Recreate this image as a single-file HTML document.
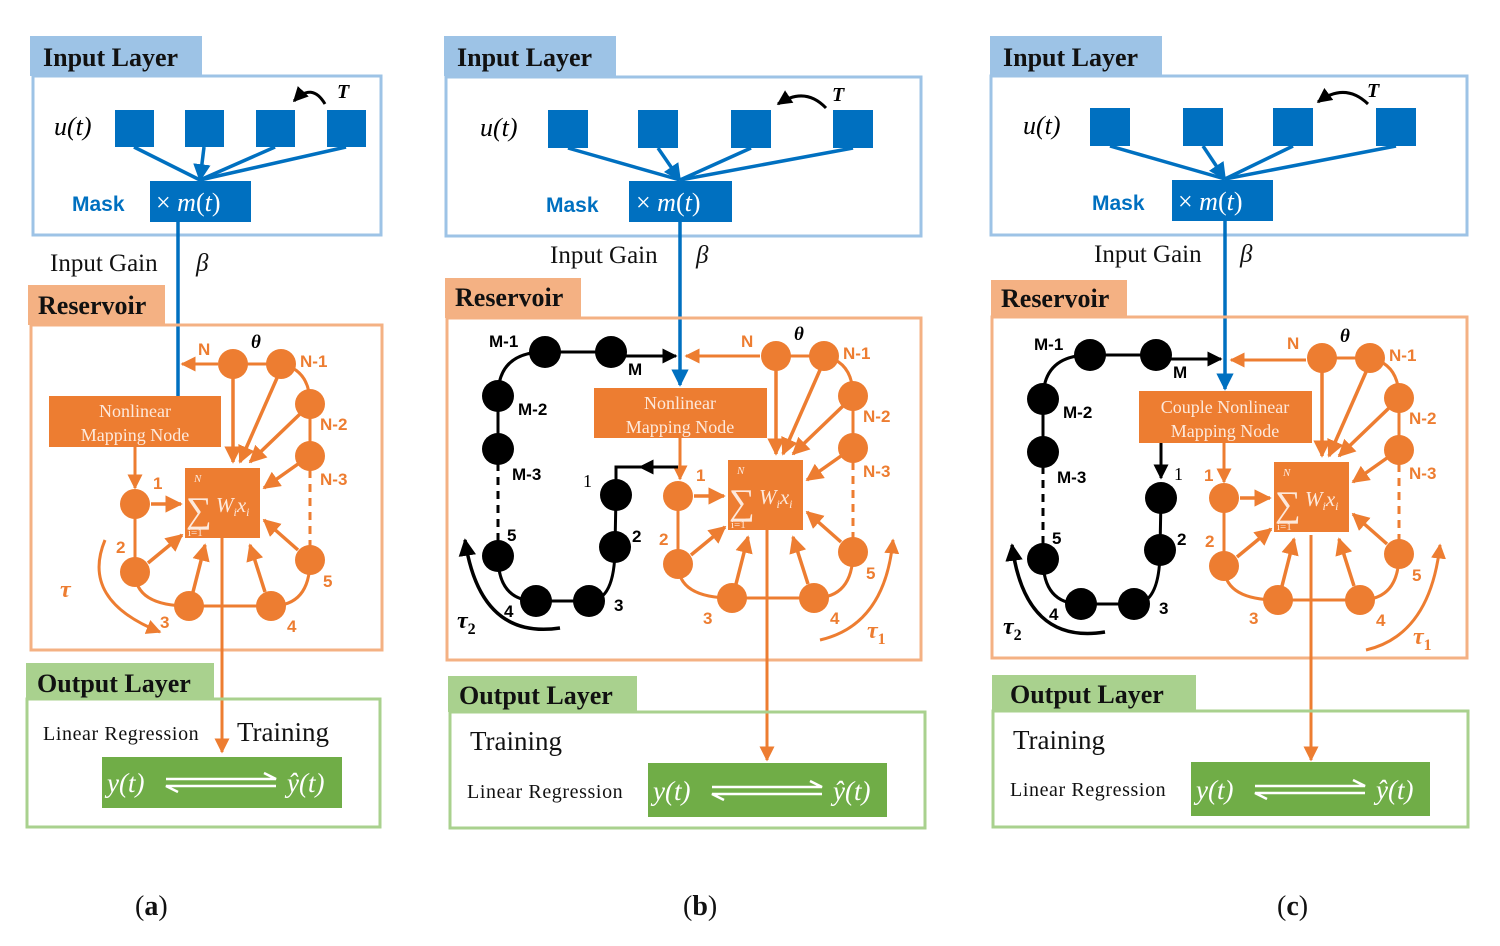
<!DOCTYPE html>
<html><head><meta charset="utf-8"><style>
html,body{margin:0;padding:0;background:#fff;}
svg{display:block;}
.tt{font-family:"Liberation Serif",serif;font-weight:bold;font-size:26px;fill:#111;}
.se{font-family:"Liberation Serif",serif;}
.sa{font-family:"Liberation Sans",sans-serif;font-weight:bold;}
.ol{font-family:"Liberation Sans",sans-serif;font-weight:bold;font-size:17px;fill:#ED7D31;}
.bl{font-family:"Liberation Sans",sans-serif;font-weight:bold;font-size:17px;fill:#000;}
.lr{font-family:"Liberation Serif",serif;font-size:20px;letter-spacing:0.6px;fill:#111;}
</style></head><body>
<svg width="1500" height="946" viewBox="0 0 1500 946" xmlns="http://www.w3.org/2000/svg">
<defs>
<marker id="mo" viewBox="0 0 10 10" refX="9" refY="5" markerWidth="5" markerHeight="5" orient="auto"><path d="M0,0L10,5L0,10z" fill="#ED7D31"/></marker>
<marker id="mb" viewBox="0 0 10 10" refX="9" refY="5" markerWidth="5" markerHeight="5" orient="auto"><path d="M0,0L10,5L0,10z" fill="#0070C0"/></marker>
<marker id="mk" viewBox="0 0 10 10" refX="9" refY="5" markerWidth="5" markerHeight="5" orient="auto"><path d="M0,0L10,5L0,10z" fill="#000"/></marker>
</defs>

<!-- ================= PANEL A ================= -->
<rect x="30" y="36" width="172" height="40" fill="#9DC3E6"/>
<text x="43" y="66" class="tt">Input Layer</text>
<rect x="33" y="76" width="348" height="159" fill="none" stroke="#9DC3E6" stroke-width="3"/>
<text x="54" y="135" class="se" font-size="26" font-style="italic">u(t)</text>
<g fill="#0070C0"><rect x="115" y="110" width="39" height="37"/><rect x="185" y="110" width="39" height="37"/><rect x="256" y="110" width="39" height="37"/><rect x="327" y="110" width="39" height="37"/></g>
<g stroke="#0070C0" stroke-width="3.5" fill="none"><line x1="134" y1="147" x2="200" y2="180"/><line x1="204" y1="147" x2="200" y2="180" marker-end="url(#mb)"/><line x1="275" y1="147" x2="200" y2="180"/><line x1="346" y1="147" x2="200" y2="180"/></g>
<path d="M325,104 Q312,82 294,101" stroke="#000" stroke-width="3" fill="none" marker-end="url(#mk)"/>
<text x="337" y="98" class="se" font-size="20" font-style="italic" font-weight="bold">T</text>
<text x="72" y="211" class="sa" font-size="21" fill="#0070C0">Mask</text>
<rect x="150" y="181" width="101" height="41" fill="#0070C0"/>
<text x="156" y="211" class="se" font-size="26" fill="#fff">× <tspan font-style="italic">m</tspan>(<tspan font-style="italic">t</tspan>)</text>
<line x1="178" y1="222" x2="178" y2="396" stroke="#0070C0" stroke-width="3.5"/>
<text x="50" y="271" class="se" font-size="25" fill="#111">Input Gain</text>
<text x="196" y="271" class="se" font-size="25" font-style="italic" fill="#111">β</text>
<rect x="28" y="285" width="137" height="40" fill="#F4B183"/>
<text x="38" y="314" class="tt">Reservoir</text>
<rect x="31" y="325" width="351" height="325" fill="none" stroke="#F4B183" stroke-width="3"/>
<rect x="49" y="396" width="172" height="51" fill="#ED7D31"/>
<text x="135" y="417" class="se" font-size="18" fill="#fde9dc" text-anchor="middle">Nonlinear</text>
<text x="135" y="441" class="se" font-size="18" fill="#fde9dc" text-anchor="middle">Mapping Node</text>
<line x1="218" y1="364" x2="182" y2="364" stroke="#ED7D31" stroke-width="3" marker-end="url(#mo)"/>
<line x1="135" y1="447" x2="135" y2="488" stroke="#ED7D31" stroke-width="3" marker-end="url(#mo)"/>
<path d="M105,540 Q80,600 160,632" stroke="#ED7D31" stroke-width="3" fill="none" marker-end="url(#mo)"/>
<text x="60" y="597" class="se" font-size="24" font-style="italic" font-weight="bold" fill="#ED7D31">τ</text>
<g>
<g stroke="#ED7D31" stroke-width="3" fill="none">
<path d="M233,364 L281,364 Q310,370 310,404 L310,456"/>
<path d="M310,456 L310,545" stroke-dasharray="8,6"/>
<path d="M310,545 L310,560 Q310,606 271,606 L189,606 Q135,606 135,572 L135,504"/>
</g>
<g stroke="#ED7D31" stroke-width="3.5" fill="none" marker-end="url(#mo)">
<line x1="233" y1="378" x2="233" y2="462"/>
<line x1="277" y1="378" x2="240" y2="462"/>
<line x1="300" y1="414" x2="250" y2="462"/>
<line x1="298" y1="464" x2="264" y2="488"/>
<line x1="298" y1="550" x2="264" y2="520"/>
<line x1="265" y1="592" x2="250" y2="545"/>
<line x1="193" y1="592" x2="205" y2="545"/>
<line x1="148" y1="563" x2="182" y2="535"/>
<line x1="151" y1="504" x2="181" y2="504"/>
</g>
<g fill="#ED7D31"><circle cx="233" cy="364" r="15"/><circle cx="281" cy="364" r="15"/><circle cx="310" cy="404" r="15"/><circle cx="310" cy="456" r="15"/><circle cx="310" cy="560" r="15"/><circle cx="271" cy="606" r="15"/><circle cx="189" cy="606" r="15"/><circle cx="135" cy="572" r="15"/><circle cx="135" cy="504" r="15"/></g>
<rect x="185" y="468" width="75" height="70" fill="#ED7D31"/>
<text x="186" y="522" class="se" font-size="36" fill="#fde9dc">∑</text>
<text x="194" y="482" class="se" font-size="11" font-style="italic" fill="#fde9dc">N</text>
<text x="188" y="536" class="se" font-size="11" fill="#fde9dc">i=1</text>
<text x="216" y="512" class="se" font-size="21" font-style="italic" fill="#fde9dc">W<tspan font-size="12" dy="4">i</tspan><tspan dy="-4">x</tspan><tspan font-size="12" dy="4">i</tspan></text>
<text x="198" y="355" class="ol">N</text>
<text x="251" y="348" class="se" font-size="19" font-style="italic" font-weight="bold">θ</text>
<text x="300" y="367" class="ol">N-1</text>
<text x="320" y="430" class="ol">N-2</text>
<text x="320" y="485" class="ol">N-3</text>
<text x="323" y="587" class="ol">5</text>
<text x="287" y="632" class="ol">4</text>
<text x="116" y="553" class="ol">2</text>
<text x="153" y="489" class="ol">1</text>
</g>
<text x="160" y="628" class="ol">3</text>
<line x1="222" y1="538" x2="222" y2="752" stroke="#ED7D31" stroke-width="3" marker-end="url(#mo)"/>
<rect x="26" y="663" width="188" height="36" fill="#A9D18E"/>
<text x="37" y="692" class="tt">Output Layer</text>
<rect x="27" y="699" width="353" height="128" fill="none" stroke="#A9D18E" stroke-width="3"/>
<text x="43" y="740" class="lr">Linear Regression</text>
<text x="237" y="741" class="se" font-size="27" fill="#111">Training</text>
<rect x="102" y="757" width="240" height="51" fill="#70AD47"/>
<text x="107" y="792" class="se" font-size="27" font-style="italic" fill="#fff">y(t)</text>
<g stroke="#fff" stroke-width="2.5" fill="none"><path d="M166,779 L276,779 L264,773"/><path d="M276,786 L166,786 L178,792"/></g>
<text x="287" y="792" class="se" font-size="27" font-style="italic" fill="#fff">ŷ(t)</text>
<text x="135" y="915" class="se" font-size="28" fill="#111">(<tspan font-weight="bold">a</tspan>)</text>

<!-- ================= PANEL B ================= -->
<rect x="444" y="36" width="172" height="40" fill="#9DC3E6"/>
<text x="457" y="66" class="tt">Input Layer</text>
<rect x="446" y="77" width="475" height="159" fill="none" stroke="#9DC3E6" stroke-width="3"/>
<text x="480" y="136" class="se" font-size="26" font-style="italic">u(t)</text>
<g fill="#0070C0"><rect x="548" y="110" width="40" height="38"/><rect x="638" y="110" width="40" height="38"/><rect x="731" y="110" width="40" height="38"/><rect x="833" y="110" width="40" height="38"/></g>
<g stroke="#0070C0" stroke-width="3.5" fill="none"><line x1="568" y1="148" x2="680" y2="180"/><line x1="658" y1="148" x2="680" y2="180" marker-end="url(#mb)"/><line x1="751" y1="148" x2="680" y2="180"/><line x1="853" y1="148" x2="680" y2="180"/></g>
<path d="M826,108 Q805,86 778,104" stroke="#000" stroke-width="3" fill="none" marker-end="url(#mk)"/>
<text x="832" y="101" class="se" font-size="20" font-style="italic" font-weight="bold">T</text>
<text x="546" y="212" class="sa" font-size="21" fill="#0070C0">Mask</text>
<rect x="629" y="181" width="103" height="41" fill="#0070C0"/>
<text x="636" y="211" class="se" font-size="26" fill="#fff">× <tspan font-style="italic">m</tspan>(<tspan font-style="italic">t</tspan>)</text>
<line x1="680" y1="222" x2="680" y2="385" stroke="#0070C0" stroke-width="3.5" marker-end="url(#mb)"/>
<text x="550" y="263" class="se" font-size="25" fill="#111">Input Gain</text>
<text x="696" y="263" class="se" font-size="25" font-style="italic" fill="#111">β</text>
<rect x="445" y="278" width="136" height="40" fill="#F4B183"/>
<text x="455" y="306" class="tt">Reservoir</text>
<rect x="447" y="318" width="474" height="342" fill="none" stroke="#F4B183" stroke-width="3"/>
<rect x="594" y="388" width="173" height="50" fill="#ED7D31"/>
<text x="680" y="409" class="se" font-size="18" fill="#fde9dc" text-anchor="middle">Nonlinear</text>
<text x="680" y="433" class="se" font-size="18" fill="#fde9dc" text-anchor="middle">Mapping Node</text>
<line x1="760" y1="356" x2="686" y2="356" stroke="#ED7D31" stroke-width="3" marker-end="url(#mo)"/>
<line x1="680" y1="438" x2="680" y2="479" stroke="#ED7D31" stroke-width="3" marker-end="url(#mo)"/>
<g transform="translate(543,-8)">
<g stroke="#ED7D31" stroke-width="3" fill="none">
<path d="M233,364 L281,364 Q310,370 310,404 L310,456"/>
<path d="M310,456 L310,545" stroke-dasharray="8,6"/>
<path d="M310,545 L310,560 Q310,606 271,606 L189,606 Q135,606 135,572 L135,504"/>
</g>
<g stroke="#ED7D31" stroke-width="3.5" fill="none" marker-end="url(#mo)">
<line x1="233" y1="378" x2="233" y2="462"/><line x1="277" y1="378" x2="240" y2="462"/><line x1="300" y1="414" x2="250" y2="462"/><line x1="298" y1="464" x2="264" y2="488"/><line x1="298" y1="550" x2="264" y2="520"/><line x1="265" y1="592" x2="250" y2="545"/><line x1="193" y1="592" x2="205" y2="545"/><line x1="148" y1="563" x2="182" y2="535"/><line x1="151" y1="504" x2="181" y2="504"/>
</g>
<g fill="#ED7D31"><circle cx="233" cy="364" r="15"/><circle cx="281" cy="364" r="15"/><circle cx="310" cy="404" r="15"/><circle cx="310" cy="456" r="15"/><circle cx="310" cy="560" r="15"/><circle cx="271" cy="606" r="15"/><circle cx="189" cy="606" r="15"/><circle cx="135" cy="572" r="15"/><circle cx="135" cy="504" r="15"/></g>
<rect x="185" y="468" width="75" height="70" fill="#ED7D31"/>
<text x="186" y="522" class="se" font-size="36" fill="#fde9dc">∑</text>
<text x="194" y="482" class="se" font-size="11" font-style="italic" fill="#fde9dc">N</text>
<text x="188" y="536" class="se" font-size="11" fill="#fde9dc">i=1</text>
<text x="216" y="512" class="se" font-size="21" font-style="italic" fill="#fde9dc">W<tspan font-size="12" dy="4">i</tspan><tspan dy="-4">x</tspan><tspan font-size="12" dy="4">i</tspan></text>
<text x="198" y="355" class="ol">N</text>
<text x="251" y="348" class="se" font-size="19" font-style="italic" font-weight="bold">θ</text>
<text x="300" y="367" class="ol">N-1</text>
<text x="320" y="430" class="ol">N-2</text>
<text x="320" y="485" class="ol">N-3</text>
<text x="323" y="587" class="ol">5</text>
<text x="287" y="632" class="ol">4</text>
<text x="160" y="632" class="ol">3</text>
<text x="116" y="553" class="ol">2</text>
<text x="153" y="489" class="ol">1</text>
</g>
<path d="M820,640 Q885,625 893,540" stroke="#ED7D31" stroke-width="3" fill="none" marker-end="url(#mo)"/>
<text x="867" y="638" class="se" font-size="24" font-style="italic" font-weight="bold" fill="#ED7D31">τ<tspan font-size="16" dy="6" font-style="normal">1</tspan></text>
<g>
<g stroke="#000" stroke-width="3" fill="none">
<path d="M611,352 L545,352 Q498,352 498,396 L498,449"/>
<path d="M498,449 L498,540" stroke-dasharray="8,6"/>
<path d="M498,540 L498,556 Q498,601 536,601 L589,601 Q615,601 615,547 L616,495"/>
<line x1="611" y1="356" x2="676" y2="356" marker-end="url(#mk)"/>
</g>
<g fill="#000"><circle cx="545" cy="352" r="16"/><circle cx="611" cy="352" r="16"/><circle cx="498" cy="396" r="16"/><circle cx="498" cy="449" r="16"/><circle cx="498" cy="556" r="16"/><circle cx="536" cy="601" r="16"/><circle cx="589" cy="601" r="16"/><circle cx="615" cy="547" r="16"/><circle cx="616" cy="495" r="16"/></g>
<text x="489" y="347" class="bl">M-1</text>
<text x="628" y="375" class="bl">M</text>
<text x="518" y="415" class="bl">M-2</text>
<text x="512" y="480" class="bl">M-3</text>
<text x="507" y="541" class="bl">5</text>
<text x="504" y="617" class="bl">4</text>
<text x="614" y="611" class="bl">3</text>
<text x="632" y="542" class="bl">2</text>
</g>
<text x="583" y="487" class="se" font-size="18" fill="#000">1</text>
<path d="M616,480 L616,467 L678,467" stroke="#000" stroke-width="3" fill="none"/>
<line x1="660" y1="467" x2="640" y2="467" stroke="#000" stroke-width="3" marker-end="url(#mk)"/>
<path d="M560,628 Q480,640 465,540" stroke="#000" stroke-width="3.5" fill="none" marker-end="url(#mk)"/>
<text x="457" y="628" class="se" font-size="24" font-style="italic" font-weight="bold" fill="#000">τ<tspan font-size="16" dy="6" font-style="normal">2</tspan></text>
<line x1="767" y1="530" x2="767" y2="760" stroke="#ED7D31" stroke-width="3" marker-end="url(#mo)"/>
<rect x="448" y="676" width="189" height="36" fill="#A9D18E"/>
<text x="459" y="704" class="tt">Output Layer</text>
<rect x="450" y="712" width="475" height="116" fill="none" stroke="#A9D18E" stroke-width="3"/>
<text x="470" y="750" class="se" font-size="27" fill="#111">Training</text>
<text x="467" y="798" class="lr">Linear Regression</text>
<rect x="648" y="763" width="239" height="54" fill="#70AD47"/>
<text x="653" y="800" class="se" font-size="27" font-style="italic" fill="#fff">y(t)</text>
<g stroke="#fff" stroke-width="2.5" fill="none"><path d="M712,787 L822,787 L810,781"/><path d="M822,794 L712,794 L724,800"/></g>
<text x="833" y="800" class="se" font-size="27" font-style="italic" fill="#fff">ŷ(t)</text>
<text x="683" y="915" class="se" font-size="28" fill="#111">(<tspan font-weight="bold">b</tspan>)</text>

<!-- ================= PANEL C ================= -->
<rect x="990" y="36" width="172" height="40" fill="#9DC3E6"/>
<text x="1003" y="66" class="tt">Input Layer</text>
<rect x="991" y="76" width="476" height="159" fill="none" stroke="#9DC3E6" stroke-width="3"/>
<text x="1023" y="134" class="se" font-size="26" font-style="italic">u(t)</text>
<g fill="#0070C0"><rect x="1090" y="108" width="40" height="38"/><rect x="1183" y="108" width="40" height="38"/><rect x="1273" y="108" width="40" height="38"/><rect x="1376" y="108" width="40" height="38"/></g>
<g stroke="#0070C0" stroke-width="3.5" fill="none"><line x1="1110" y1="146" x2="1225" y2="179"/><line x1="1203" y1="146" x2="1225" y2="179" marker-end="url(#mb)"/><line x1="1293" y1="146" x2="1225" y2="179"/><line x1="1396" y1="146" x2="1225" y2="179"/></g>
<path d="M1368,104 Q1345,82 1318,102" stroke="#000" stroke-width="3" fill="none" marker-end="url(#mk)"/>
<text x="1367" y="97" class="se" font-size="20" font-style="italic" font-weight="bold">T</text>
<text x="1092" y="210" class="sa" font-size="21" fill="#0070C0">Mask</text>
<rect x="1172" y="180" width="101" height="41" fill="#0070C0"/>
<text x="1178" y="210" class="se" font-size="26" fill="#fff">× <tspan font-style="italic">m</tspan>(<tspan font-style="italic">t</tspan>)</text>
<line x1="1225" y1="221" x2="1225" y2="389" stroke="#0070C0" stroke-width="3.5" marker-end="url(#mb)"/>
<text x="1094" y="262" class="se" font-size="25" fill="#111">Input Gain</text>
<text x="1240" y="262" class="se" font-size="25" font-style="italic" fill="#111">β</text>
<rect x="991" y="280" width="136" height="38" fill="#F4B183"/>
<text x="1001" y="307" class="tt">Reservoir</text>
<rect x="992" y="317" width="475" height="341" fill="none" stroke="#F4B183" stroke-width="3"/>
<rect x="1139" y="391" width="173" height="52" fill="#ED7D31"/>
<text x="1225" y="413" class="se" font-size="18" fill="#fde9dc" text-anchor="middle">Couple Nonlinear</text>
<text x="1225" y="437" class="se" font-size="18" fill="#fde9dc" text-anchor="middle">Mapping Node</text>
<line x1="1306" y1="360" x2="1231" y2="360" stroke="#ED7D31" stroke-width="3" marker-end="url(#mo)"/>
<line x1="1224" y1="443" x2="1224" y2="482" stroke="#ED7D31" stroke-width="3" marker-end="url(#mo)"/>
<g transform="translate(1089,-6)">
<g stroke="#ED7D31" stroke-width="3" fill="none">
<path d="M233,364 L281,364 Q310,370 310,404 L310,456"/>
<path d="M310,456 L310,545" stroke-dasharray="8,6"/>
<path d="M310,545 L310,560 Q310,606 271,606 L189,606 Q135,606 135,572 L135,504"/>
</g>
<g stroke="#ED7D31" stroke-width="3.5" fill="none" marker-end="url(#mo)">
<line x1="233" y1="378" x2="233" y2="462"/><line x1="277" y1="378" x2="240" y2="462"/><line x1="300" y1="414" x2="250" y2="462"/><line x1="298" y1="464" x2="264" y2="488"/><line x1="298" y1="550" x2="264" y2="520"/><line x1="265" y1="592" x2="250" y2="545"/><line x1="193" y1="592" x2="205" y2="545"/><line x1="148" y1="563" x2="182" y2="535"/><line x1="151" y1="504" x2="181" y2="504"/>
</g>
<g fill="#ED7D31"><circle cx="233" cy="364" r="15"/><circle cx="281" cy="364" r="15"/><circle cx="310" cy="404" r="15"/><circle cx="310" cy="456" r="15"/><circle cx="310" cy="560" r="15"/><circle cx="271" cy="606" r="15"/><circle cx="189" cy="606" r="15"/><circle cx="135" cy="572" r="15"/><circle cx="135" cy="504" r="15"/></g>
<rect x="185" y="468" width="75" height="70" fill="#ED7D31"/>
<text x="186" y="522" class="se" font-size="36" fill="#fde9dc">∑</text>
<text x="194" y="482" class="se" font-size="11" font-style="italic" fill="#fde9dc">N</text>
<text x="188" y="536" class="se" font-size="11" fill="#fde9dc">i=1</text>
<text x="216" y="512" class="se" font-size="21" font-style="italic" fill="#fde9dc">W<tspan font-size="12" dy="4">i</tspan><tspan dy="-4">x</tspan><tspan font-size="12" dy="4">i</tspan></text>
<text x="198" y="355" class="ol">N</text>
<text x="251" y="348" class="se" font-size="19" font-style="italic" font-weight="bold">θ</text>
<text x="300" y="367" class="ol">N-1</text>
<text x="320" y="430" class="ol">N-2</text>
<text x="320" y="485" class="ol">N-3</text>
<text x="323" y="587" class="ol">5</text>
<text x="287" y="632" class="ol">4</text>
<text x="160" y="630" class="ol">3</text>
<text x="116" y="553" class="ol">2</text>
<text x="115" y="487" class="ol">1</text>
</g>
<path d="M1366,650 Q1430,635 1440,545" stroke="#ED7D31" stroke-width="3" fill="none" marker-end="url(#mo)"/>
<text x="1413" y="644" class="se" font-size="24" font-style="italic" font-weight="bold" fill="#ED7D31">τ<tspan font-size="16" dy="6" font-style="normal">1</tspan></text>
<g transform="translate(545,3)">
<g stroke="#000" stroke-width="3" fill="none">
<path d="M611,352 L545,352 Q498,352 498,396 L498,449"/>
<path d="M498,449 L498,540" stroke-dasharray="8,6"/>
<path d="M498,540 L498,556 Q498,601 536,601 L589,601 Q615,601 615,547 L616,495"/>
<line x1="611" y1="356" x2="676" y2="356" marker-end="url(#mk)"/>
</g>
<g fill="#000"><circle cx="545" cy="352" r="16"/><circle cx="611" cy="352" r="16"/><circle cx="498" cy="396" r="16"/><circle cx="498" cy="449" r="16"/><circle cx="498" cy="556" r="16"/><circle cx="536" cy="601" r="16"/><circle cx="589" cy="601" r="16"/><circle cx="615" cy="547" r="16"/><circle cx="616" cy="495" r="16"/></g>
<text x="489" y="347" class="bl">M-1</text>
<text x="628" y="375" class="bl">M</text>
<text x="518" y="415" class="bl">M-2</text>
<text x="512" y="480" class="bl">M-3</text>
<text x="507" y="541" class="bl">5</text>
<text x="504" y="617" class="bl">4</text>
<text x="614" y="611" class="bl">3</text>
<text x="632" y="542" class="bl">2</text>
</g>
<text x="1174" y="480" class="se" font-size="18" fill="#000">1</text>
<line x1="1161" y1="443" x2="1161" y2="478" stroke="#000" stroke-width="3" marker-end="url(#mk)"/>
<path d="M1105,632 Q1025,645 1012,545" stroke="#000" stroke-width="3.5" fill="none" marker-end="url(#mk)"/>
<text x="1003" y="634" class="se" font-size="24" font-style="italic" font-weight="bold" fill="#000">τ<tspan font-size="16" dy="6" font-style="normal">2</tspan></text>
<line x1="1311" y1="535" x2="1311" y2="760" stroke="#ED7D31" stroke-width="3" marker-end="url(#mo)"/>
<rect x="992" y="675" width="204" height="36" fill="#A9D18E"/>
<text x="1010" y="703" class="tt">Output Layer</text>
<rect x="993" y="711" width="475" height="116" fill="none" stroke="#A9D18E" stroke-width="3"/>
<text x="1013" y="749" class="se" font-size="27" fill="#111">Training</text>
<text x="1010" y="796" class="lr">Linear Regression</text>
<rect x="1191" y="762" width="239" height="54" fill="#70AD47"/>
<text x="1196" y="799" class="se" font-size="27" font-style="italic" fill="#fff">y(t)</text>
<g stroke="#fff" stroke-width="2.5" fill="none"><path d="M1255,786 L1365,786 L1353,780"/><path d="M1365,793 L1255,793 L1267,799"/></g>
<text x="1376" y="799" class="se" font-size="27" font-style="italic" fill="#fff">ŷ(t)</text>
<text x="1277" y="915" class="se" font-size="28" fill="#111">(<tspan font-weight="bold">c</tspan>)</text>
</svg>
</body></html>
